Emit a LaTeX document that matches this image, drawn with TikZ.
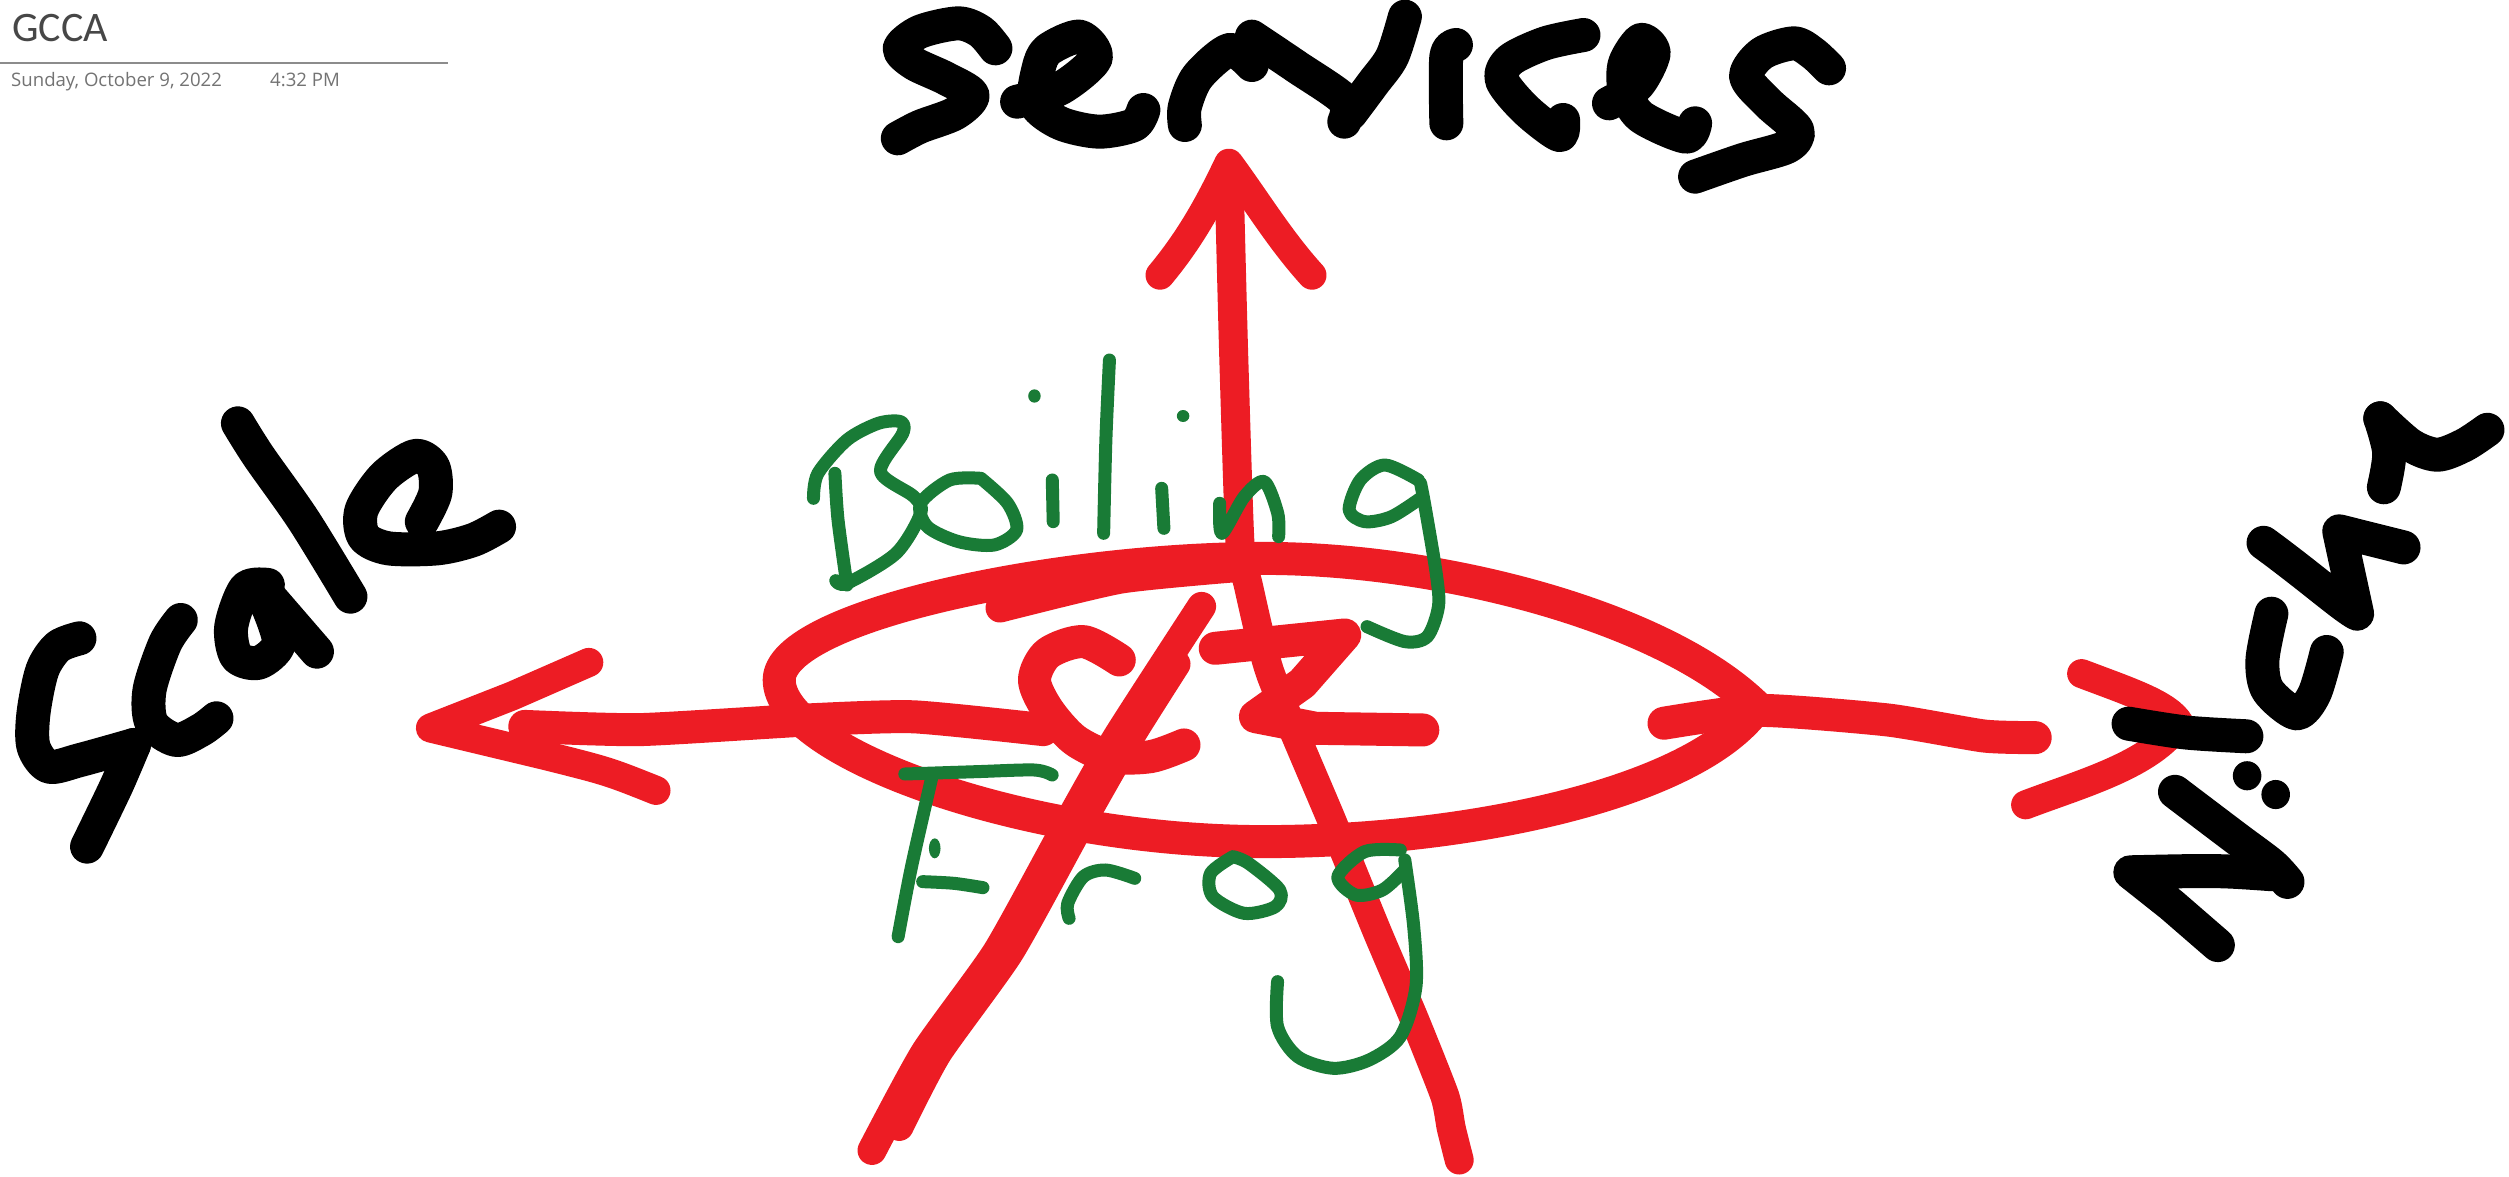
\documentclass[tikz,border=0pt]{standalone}
\usepackage{fontspec}
\setmainfont{Carlito}
\newfontfamily\notefont{Open Sans}
\definecolor{inkred}{HTML}{ED1C24}
\definecolor{inkgreen}{HTML}{197B36}
\tikzset{
  redink/.style={draw=inkred,line width=33pt,line cap=round,line join=round},
  thinred/.style={draw=inkred,line width=29pt,line cap=round,line join=round},
  blackink/.style={draw=black,line width=34pt,line cap=round,line join=round},
  greenink/.style={draw=inkgreen,line width=13pt,line cap=round,line join=round},
  prev/.style={x=1.6pt,y=-1.6pt},
  zoomtop/.style={shift={(850,0)},x=0.6378pt,y=-0.3333pt},
  zoomleft/.style={shift={(0,380)},x=0.4464pt,y=-0.3333pt},
  zoommid/.style={shift={(780,340)},x=0.4464pt,y=-0.3333pt},
  zoomlow/.style={shift={(820,720)},x=0.4464pt,y=-0.3333pt},
  zoomright/.style={shift={(1950,380)},x=0.3571pt,y=-0.3831pt},
  sm/.style={smooth,tension=0.5},
  st/.style={smooth,tension=0.35}
}
\begin{document}
\begin{tikzpicture}[x=1pt,y=-1pt]
\useasboundingbox (0,0) rectangle (2509,1176);
\fill[white] (0,0) rectangle (2509,1176);
% header
\node[anchor=base west,inner sep=0pt,text=black!72] (title) at (12,41) {\fontsize{42}{42}\selectfont GCCA};
\coordinate (ruleL) at (0,62.5);
\coordinate (ruleR) at (448,62.5);
\draw[draw=black!45,line width=2pt] (ruleL) -- (ruleR);
\node[anchor=base west,inner sep=0pt,text=black!55] (date) at (11,86) {\notefont\fontsize{18.6}{19}\selectfont Sunday, October 9, 2022};
\node[anchor=base west,inner sep=0pt,text=black!55] (time) at (270,86) {\notefont\fontsize{18.6}{19}\selectfont 4:32 PM};
% red arrows, ellipse, star
\begin{scope}[prev]
\draw[redink] (1098,442) .. controls (1040,385) and (900,349) .. (790,349) .. controls (660,349) and (487,385) .. (487,425) .. controls (487,470) and (640,526) .. (790,526) .. controls (920,526) and (1060,495) .. (1098,442);
\draw[thinred] plot[st] coordinates {(625,380)(700,362)(770,355)};
\draw[thinred] plot[st] coordinates {(768,105)(771,220)(775,340)(780,365)(794,421)(832,512)(861,583)(884,637)(903,685)(907,705)(912,725)};
\draw[thinred] (725,172) .. controls (745,148) and (757,125) .. (768,102) .. controls (785,125) and (800,150) .. (820,172);
\draw[redink] plot[st] coordinates {(328,454)(400,456)(504,450)(571,448)(652,456)};
\draw[thinred] (368,414) -- (320,435) -- (269,455) -- (340,472) .. controls (380,482) .. (410,494);
\draw[redink] plot[st] coordinates {(1040,452)(1100,444)(1180,450)(1240,460)(1272,461)};
\draw[thinred] (1301,421) .. controls (1330,432) and (1355,440) .. (1362,452) .. controls (1345,478) and (1300,490) .. (1266,503);
\draw[thinred] plot[st] coordinates {(751,379)(698,461)(665,519)(623,595)(578,658)(545,719)};
\draw[thinred] plot[st] coordinates {(735,415)(706,461)(673,519)(631,595)(586,658)(562,704)};
\end{scope}
\begin{scope}[zoommid]
\draw[redink] plot[sm] coordinates {(760,960)(680,905)(600,940)(570,1020)(600,1110)(660,1200)(740,1250)(830,1250)(905,1215)};
\draw[redink] (975,925) -- (1265,885) -- (1170,1030) -- (1065,1130) -- (1200,1165) -- (1440,1170);
\end{scope}
% green: Boiling
\begin{scope}[zoommid]
\draw[greenink] plot[sm] coordinates {(75,475)(85,400)(150,300)(220,250)(270,245)(275,280)(225,395)(300,470)(315,520)(260,640)(150,730)(125,722)};
\draw[greenink] plot[sm] coordinates {(123,400)(130,540)(150,735)};
\draw[greenink] plot[sm] coordinates {(450,415)(380,420)(315,490)(330,560)(400,605)(480,615)(530,570)(510,490)(450,415)};
\draw[greenink] plot[sm] coordinates {(610,420)(612,545)};
\fill[inkgreen] (570,168) ellipse[x radius=14,y radius=20];
\draw[greenink] plot[sm] coordinates {(738,60)(730,300)(725,580)};
\draw[greenink] plot[sm] coordinates {(855,445)(860,565)};
\fill[inkgreen] (903,228) ellipse[x radius=14,y radius=18];
\draw[greenink] plot[sm] coordinates {(985,490)(990,580)(1040,470)(1085,425)(1115,520)(1117,590)};
\draw[greenink] plot[sm] coordinates {(1430,420)(1355,375)(1300,420)(1275,510)(1310,545)(1370,530)(1440,470)};
\draw[greenink] plot[sm] coordinates {(1435,430)(1445,500)(1470,700)(1475,800)(1450,890)(1400,905)(1315,860)};
\end{scope}
% green: Frog
\begin{scope}[zoomlow]
\draw[greenink] plot[sm] coordinates {(190,162)(350,155)(480,150)(520,165)};
\draw[greenink] plot[sm] coordinates {(250,175)(205,440)(175,650)};
\fill[inkgreen] (257,385) ellipse[x radius=13,y radius=30];
\draw[greenink] plot[sm] coordinates {(230,485)(300,490)(365,503)};
\draw[greenink] plot[sm] coordinates {(558,595)(555,550)(590,470)(640,450)(705,475)};
\draw[greenink] plot[sm] coordinates {(925,410)(875,460)(880,530)(950,580)(1020,560)(1030,510)(960,430)(925,410)};
\draw[greenink] plot[sm] coordinates {(1300,390)(1220,395)(1160,470)(1200,525)(1260,510)(1310,450)};
\draw[greenink] plot[sm] coordinates {(1310,420)(1330,620)(1335,800)(1300,950)(1230,1020)(1150,1045)(1070,1010)(1025,920)(1025,785)};
\end{scope}
% black: Services
\begin{scope}[zoomtop]
\draw[blackink] plot[sm] coordinates {(228,145)(205,95)(170,70)(110,95)(78,145)(100,190)(150,235)(192,285)(165,340)(110,380)(75,415)};
\draw[blackink] plot[sm] coordinates {(262,305)(330,265)(385,175)(360,110)(310,150)(295,210)(290,310)(330,370)(390,395)(445,375)(460,330)};
\draw[blackink] plot[sm] coordinates {(525,375)(525,320)(545,230)(595,150)(630,195)};
\draw[blackink] plot[sm] coordinates {(630,110)(700,200)(775,300)(775,365)};
\draw[blackink] plot[sm] coordinates {(785,340)(820,250)(850,170)(870,50)};
\draw[blackink] plot[sm] coordinates {(935,370)(935,170)(950,135)};
\draw[blackink] plot[sm] coordinates {(1150,105)(1090,130)(1035,180)(1022,240)(1060,330)(1112,405)(1118,360)};
\draw[blackink] plot[sm] coordinates {(1190,310)(1235,255)(1260,160)(1240,120)(1215,190)(1215,270)(1240,350)(1310,410)(1325,370)};
\draw[blackink] plot[sm] coordinates {(1535,205)(1510,160)(1480,130)(1430,160)(1405,230)(1440,310)(1485,390)(1470,440)(1400,480)(1325,530)};
\end{scope}
% black: Scale
\begin{scope}[zoomleft]
\draw[blackink] plot[sm] coordinates {(178,775)(130,800)(95,870)(75,1000)(75,1100)(110,1160)(180,1140)(300,1095)};
\draw[blackink] plot[sm] coordinates {(300,1095)(260,1220)(195,1400)};
\draw[blackink] plot[sm] coordinates {(405,720)(370,790)(335,930)(340,1030)(395,1080)(450,1050)(485,1015)};
\draw[blackink] plot[sm] coordinates {(600,615)(550,625)(518,740)(530,830)(580,848)(625,790)(600,680)};
\draw[blackink] plot[sm] coordinates {(610,660)(710,815)};
\draw[blackink] plot[sm] coordinates {(533,130)(580,230)(680,420)(785,650)};
\draw[blackink] plot[sm] coordinates {(945,425)(975,340)(970,260)(930,228)(860,290)(810,390)(815,470)(870,505)(980,505)(1060,480)(1118,440)};
\end{scope}
% black: Niche
\begin{scope}[zoomright]
\draw[blackink] plot[sm] coordinates {(630,1075)(800,1195)(900,1265)(945,1310)};
\draw[blackink] (900,1290) .. controls (750,1280) .. (505,1285) -- (620,1370) -- (750,1475);
\draw[blackink] plot[sm] coordinates {(500,897)(660,920)(830,930)};
\fill[black] (832,1033) ellipse[x radius=40,y radius=38];
\fill[black] (912,1082) ellipse[x radius=40,y radius=38];
\draw[blackink] plot[sm] coordinates {(900,610)(875,730)(890,810)(970,870)(1020,820)(1055,710)};
\draw[blackink] (878,425) .. controls (1010,515) and (1100,590) .. (1140,610) -- (1090,395) -- (1270,437);
\draw[blackink] plot[sm] coordinates {(1215,280)(1230,190)(1205,100)};
\draw[blackink] plot[sm] coordinates {(1205,100)(1290,170)(1365,195)(1440,170)(1505,130)};
\end{scope}
\end{tikzpicture}
\end{document}
